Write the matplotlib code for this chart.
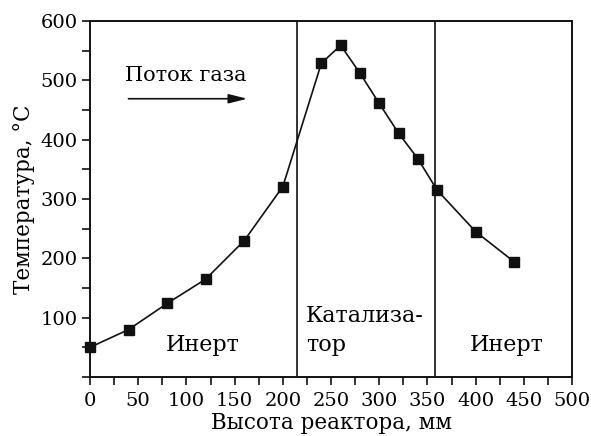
# Температурный профиль по высоте реактора

import matplotlib.pyplot as plt
from matplotlib.ticker import MultipleLocator

# Данные

vysota = [0, 40, 80, 120, 160, 200, 240, 260, 280, 300, 320, 340, 360, 400, 440]
temperatura = [50, 80, 124, 165, 230, 321, 529, 559, 512, 461, 411, 368, 315, 245, 194]

granicy = [215, 358]

# Grafica

plt.rcParams['font.family'] = 'DejaVu Serif'
plt.rcParams['font.size'] = 14

fig = plt.figure(figsize=(5.91, 4.36), dpi=100)
ax = fig.add_axes([0.1523, 0.1353, 0.8157, 0.8165])

ax.plot(vysota, temperatura, c='#111111', lw=1.2, marker='s', ms=6.5,
        mfc='#111111', mec='#111111', clip_on=False, zorder=3)

for g in granicy:
    ax.axvline(g, c='#111111', lw=1.2)

ax.set_xlim(0, 500)
ax.set_ylim(0, 600)
ax.xaxis.set_major_locator(MultipleLocator(50))
ax.xaxis.set_minor_locator(MultipleLocator(25))
ax.yaxis.set_major_locator(MultipleLocator(100))
ax.yaxis.set_minor_locator(MultipleLocator(50))
ax.set_yticks([100, 200, 300, 400, 500, 600])

ax.tick_params(which='both', direction='out', length=6, width=1.2, color='#111111')
ax.tick_params(axis='x', pad=5)
ax.tick_params(axis='y', pad=3)
for s in ax.spines.values():
    s.set_linewidth(1.4)
    s.set_color('#111111')

ax.set_xlabel('Высота реактора, мм', fontsize=15.5, labelpad=1)
ax.set_ylabel('Температура, °С', fontsize=15.5, labelpad=4)

ax.text(36, 509, 'Поток газа', fontsize=15, va='center', ha='left')
ax.annotate('', xy=(166, 469), xytext=(37, 469),
            arrowprops=dict(arrowstyle='-|>,head_length=0.8,head_width=0.2',
                            color='#111111', lw=1.2, mutation_scale=14))

ax.text(117, 54, 'Инерт', fontsize=16, ha='center', va='center')
ax.text(224, 102, 'Катализа-', fontsize=16, ha='left', va='center')
ax.text(224, 54, 'тор', fontsize=16, ha='left', va='center')
ax.text(432, 54, 'Инерт', fontsize=16, ha='center', va='center')

plt.savefig('out.png', dpi=100)
